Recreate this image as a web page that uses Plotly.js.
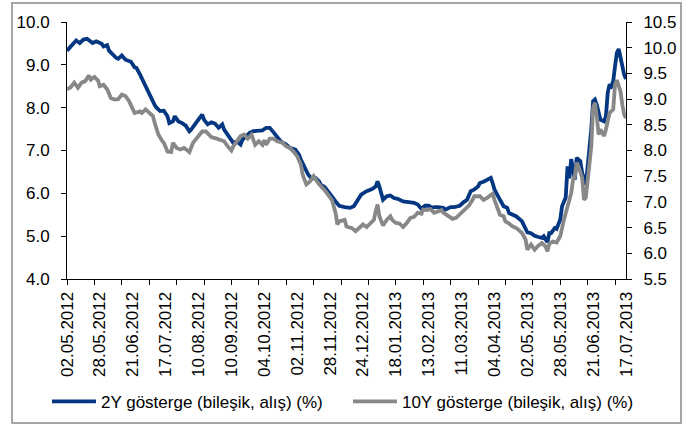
<!DOCTYPE html>
<html>
<head>
<meta charset="utf-8">
<script src="https://cdn.plot.ly/plotly-3.0.1.min.js"></script>
<style>
html,body{margin:0;padding:0;background:#fff;}
#chart{width:692px;height:424px;}
</style>
</head>
<body>
<div id="chart"></div>
<script>
// Trading calendar (Borsa business days)
const startDate = '2012-05-02';
const endDate = '2013-07-17';
const holidays = ['2012-08-20','2012-08-21','2012-08-30','2012-10-25','2012-10-26','2012-10-29','2013-01-01','2013-04-23','2013-05-01'];

// X-axis labels (every 18th trading day)
const tickLabels = ['02.05.2012','28.05.2012','21.06.2012','17.07.2012','10.08.2012','10.09.2012','04.10.2012','02.11.2012','28.11.2012','24.12.2012','18.01.2013','13.02.2013','11.03.2013','04.04.2013','02.05.2013','28.05.2013','21.06.2013','17.07.2013'];

const seriesNames = ['2Y gösterge (bileşik, alış) (%)', '10Y gösterge (bileşik, alış) (%)'];

// 2Y benchmark: trading-day number (since 02.05.2012) and yield
const day2Y = [0,3,5,7,9,11,14,16,19,20,
  22,23,25,27,28,30,32,35,37,38,
  40,42,44,46,48,49,51,53,55,56,
  58,59,61,63,65,67,68,70,72,74,
  75,77,79,81,83,85,86,88,91,93,
  95,96,98,100,102,105,107,109,111,113,
  115,117,120,122,125,127,128,130,132,134,
  136,138,139,141,143,145,147,149,152,155,
  157,159,161,164,167,169,170,171,173,175,
  177,179,181,184,187,190,192,194,196,198,
  200,201,203,206,207,210,212,215,217,219,
  221,223,225,226,228,230,232,233,234,236,
  237,239,241,242,244,246,249,251,252,254,
  256,258,260,261,263,264,265,267,268,270,
  271,273,274,275,276,277,278,279,281,282,
  284,285,287,288,289,290,291,292,294,295,
  296,297,298,299,300,301,302,303,304,305,
  306];
const val2Y = [9.33,9.47,9.57,9.51,9.59,9.61,9.51,9.55,9.49,9.43,
  9.46,9.33,9.24,9.16,9.14,9.22,9.12,9.07,8.94,8.93,
  8.77,8.58,8.42,8.23,8.06,8.00,7.92,7.93,7.80,7.64,
  7.68,7.80,7.68,7.64,7.58,7.45,7.49,7.61,7.72,7.84,
  7.72,7.61,7.66,7.63,7.53,7.61,7.49,7.37,7.18,7.21,
  7.14,7.25,7.33,7.41,7.45,7.45,7.47,7.53,7.53,7.43,
  7.32,7.21,7.14,7.06,7.02,6.90,6.79,6.63,6.44,6.34,
  6.36,6.28,6.20,6.15,6.05,5.93,5.81,5.71,5.68,5.66,
  5.70,5.85,5.97,6.05,6.10,6.16,6.28,6.16,5.85,5.93,
  5.95,5.89,5.87,5.81,5.79,5.78,5.74,5.64,5.71,5.71,
  5.66,5.68,5.68,5.66,5.62,5.68,5.68,5.71,5.79,5.85,
  6.05,6.09,6.16,6.24,6.27,6.32,6.36,6.24,6.09,5.93,
  5.85,5.70,5.66,5.54,5.50,5.46,5.35,5.15,5.09,5.07,
  5.01,4.98,4.96,5.00,4.86,5.07,5.07,5.19,5.17,5.39,
  5.70,5.90,6.63,6.35,6.80,6.55,6.32,6.83,6.75,6.48,
  6.20,6.63,7.49,8.15,8.19,8.07,7.88,7.72,7.68,7.80,
  8.35,8.54,8.50,8.62,8.97,9.28,9.37,9.20,8.97,8.77,
  8.67];

// 10Y benchmark: trading-day number and yield (right axis)
const day10Y = [0,2,4,6,8,10,12,13,15,17,
  18,20,22,24,26,28,30,32,34,36,
  37,40,41,43,45,47,48,50,52,53,
  55,57,58,60,62,64,66,67,69,72,
  74,76,77,79,82,84,86,88,90,91,
  93,95,97,99,101,103,105,107,108,109,
  111,113,115,118,120,122,124,126,128,129,
  131,133,135,137,138,141,143,145,147,148,
  149,152,153,156,158,160,162,164,166,168,
  169,170,171,173,175,177,178,180,182,184,
  186,188,190,192,194,195,197,199,201,203,
  205,206,209,211,213,216,218,220,222,223,
  226,228,230,233,234,236,237,239,240,242,
  244,246,249,251,252,254,255,256,258,260,
  262,263,264,266,268,270,272,273,274,276,
  277,278,279,280,282,283,284,285,287,288,
  289,290,291,292,294,295,296,297,299,300,
  301,303,304,305,306];
const val10Y = [9.19,9.23,9.32,9.22,9.32,9.35,9.46,9.38,9.43,9.36,
  9.25,9.28,9.19,9.02,8.99,9.00,9.09,9.06,8.96,8.82,
  8.73,8.76,8.73,8.80,8.73,8.67,8.54,8.31,8.19,8.15,
  7.98,7.97,8.15,8.05,8.02,8.05,8.00,7.97,8.15,8.28,
  8.37,8.37,8.34,8.26,8.23,8.21,8.18,8.08,8.00,8.08,
  8.18,8.28,8.31,8.23,8.31,8.11,8.18,8.11,8.20,8.11,
  8.23,8.23,8.18,8.15,8.08,8.05,7.98,7.89,7.73,7.53,
  7.34,7.40,7.50,7.40,7.34,7.23,7.14,7.04,6.79,6.56,
  6.62,6.65,6.52,6.49,6.43,6.49,6.56,6.51,6.59,6.65,
  6.82,6.95,6.72,6.54,6.65,6.72,6.65,6.59,6.58,6.51,
  6.59,6.69,6.71,6.79,6.77,6.85,6.84,6.86,6.79,6.82,
  6.84,6.79,6.71,6.67,6.69,6.79,6.88,6.93,7.04,7.11,
  7.11,7.04,7.08,7.16,7.04,6.85,6.75,6.72,6.62,6.58,
  6.52,6.49,6.40,6.27,6.07,6.17,6.10,6.07,6.15,6.20,
  6.13,6.04,6.19,6.23,6.21,6.33,6.65,6.78,6.91,7.17,
  7.43,7.50,7.76,7.69,7.47,7.04,7.08,7.37,8.08,8.83,
  8.93,8.67,8.31,8.41,8.28,8.41,8.60,8.73,8.80,9.28,
  9.37,9.15,8.89,8.70,8.63];

// build trading calendar
function pad(n){return (n<10?'0':'')+n;}
function buildCalendar(){
  const out = [];
  const d = new Date(startDate+'T00:00:00Z');
  const end = new Date(endDate+'T00:00:00Z');
  while (d <= end){
    const iso = d.getUTCFullYear()+'-'+pad(d.getUTCMonth()+1)+'-'+pad(d.getUTCDate());
    const wd = d.getUTCDay();
    if (wd !== 0 && wd !== 6 && holidays.indexOf(iso) < 0){
      out.push(pad(d.getUTCDate())+'.'+pad(d.getUTCMonth()+1)+'.'+d.getUTCFullYear());
    }
    d.setUTCDate(d.getUTCDate()+1);
  }
  return out;
}
const calendar = buildCalendar();
const tickVals = tickLabels.map(l => calendar.indexOf(l));
const lastDay = calendar.length - 1;

const blue = '#043781';
const gray = '#888888';

const traces = [
  {
    x: day2Y, y: val2Y, name: seriesNames[0], type: 'scatter', mode: 'lines',
    line: {color: blue, width: 3.8},
    customdata: day2Y.map(i => calendar[i]),
    hovertemplate: '%{customdata}: %{y:.2f}<extra></extra>',
    yaxis: 'y', legend: 'legend'
  },
  {
    x: day10Y, y: val10Y, name: seriesNames[1], type: 'scatter', mode: 'lines',
    line: {color: gray, width: 3.8},
    customdata: day10Y.map(i => calendar[i]),
    hovertemplate: '%{customdata}: %{y:.2f}<extra></extra>',
    yaxis: 'y2', legend: 'legend2'
  }
];

const axisFont = {family: 'Liberation Sans, Arial, sans-serif', size: 17, color: '#000'};
const legendBase = {
  orientation: 'h', xanchor: 'left', y: -0.478, yanchor: 'middle',
  font: axisFont, bgcolor: 'rgba(0,0,0,0)', borderwidth: 0, itemwidth: 44
};

const layout = {
  width: 692, height: 424,
  margin: {l: 67, r: 66, t: 22, b: 145, pad: 0, autoexpand: false},
  paper_bgcolor: '#fff', plot_bgcolor: '#fff',
  font: axisFont,
  showlegend: true,
  legend: Object.assign({}, legendBase, {x: -0.0358}),
  legend2: Object.assign({}, legendBase, {x: 0.5026}),
  xaxis: {
    range: [0, lastDay], tickmode: 'array', tickvals: tickVals, ticktext: tickLabels,
    tickangle: -90, ticks: '', showline: true, linecolor: '#000', linewidth: 1,
    showgrid: false, zeroline: false, tickfont: axisFont, ticklabelstandoff: 5,
    minor: {tickmode: 'linear', tick0: 0, dtick: 15, ticks: 'outside', ticklen: 5, tickcolor: '#000', tickwidth: 1, showgrid: false},
    fixedrange: true
  },
  yaxis: {
    range: [4, 10], tickmode: 'linear', tick0: 4, dtick: 1, tickformat: '.1f',
    ticks: 'outside', ticklen: 5, tickcolor: '#000', showline: true, linecolor: '#000', linewidth: 1,
    showgrid: false, zeroline: false, tickfont: axisFont, ticklabelstandoff: 8, fixedrange: true
  },
  yaxis2: {
    range: [5.5, 10.5], tickmode: 'linear', tick0: 5.5, dtick: 0.5, tickformat: '.1f',
    overlaying: 'y', side: 'right',
    ticks: 'outside', ticklen: 5, tickcolor: '#000', showline: true, linecolor: '#000', linewidth: 1,
    showgrid: false, zeroline: false, tickfont: axisFont, ticklabelstandoff: 8, fixedrange: true
  },
  shapes: [{
    type: 'rect', xref: 'paper', yref: 'paper',
    x0: -0.0984, x1: 1.0984, y0: -0.5603, y1: 1.0739,
    line: {color: '#a6a6a6', width: 2}, fillcolor: 'rgba(0,0,0,0)', layer: 'below'
  }]
};

Plotly.newPlot('chart', traces, layout, {displayModeBar: false});
</script>
</body>
</html>
